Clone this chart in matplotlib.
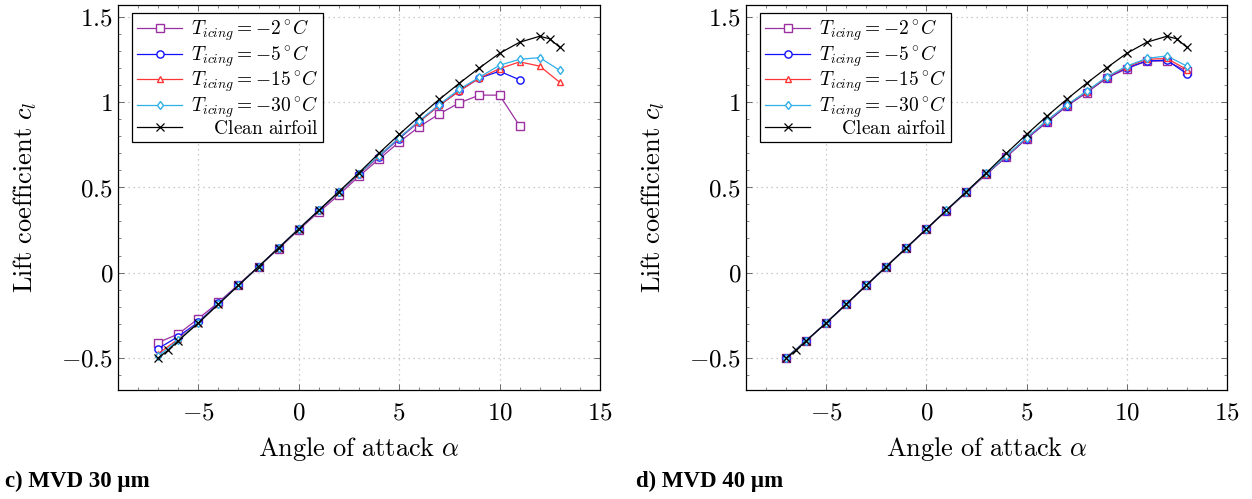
import numpy as np
import matplotlib
matplotlib.use("Agg")
import matplotlib.pyplot as plt
from matplotlib.ticker import MultipleLocator, FuncFormatter

plt.rcParams['mathtext.fontset'] = 'cm'
plt.rcParams['font.family'] = 'DejaVu Serif'

# ---------------- data ----------------
aoa = list(range(-7, 14))
aoa_clean = [-7, -6.5, -6, -5, -4, -3, -2, -1, 0, 1, 2, 3, 4, 5, 6, 7, 8, 9, 10, 11, 12, 12.5, 13]
cl_clean = [-0.50, -0.455, -0.40, -0.295, -0.185, -0.075, 0.035, 0.145, 0.255, 0.365, 0.475,
            0.585, 0.70, 0.81, 0.915, 1.015, 1.11, 1.20, 1.285, 1.35, 1.385, 1.37, 1.32]

# c) MVD 30 um
mvd30_m2 = [-0.41, -0.36, -0.27, -0.175, -0.07, 0.035, 0.14, 0.25, 0.355, 0.455, 0.565,
            0.665, 0.765, 0.855, 0.93, 0.995, 1.04, 1.04, 0.86]
mvd30_m5 = [-0.445, -0.375, -0.29, -0.18, -0.075, 0.035, 0.145, 0.255, 0.365, 0.47, 0.578,
            0.68, 0.785, 0.885, 0.98, 1.065, 1.14, 1.18, 1.13]
mvd30_m15 = [-0.475, -0.39, -0.295, -0.185, -0.075, 0.035, 0.145, 0.255, 0.365, 0.47, 0.578,
             0.682, 0.79, 0.885, 0.98, 1.065, 1.14, 1.195, 1.235, 1.21, 1.115]
mvd30_m30 = [-0.49, -0.395, -0.295, -0.185, -0.075, 0.035, 0.145, 0.255, 0.365, 0.472, 0.58,
             0.685, 0.79, 0.89, 0.985, 1.075, 1.145, 1.215, 1.25, 1.26, 1.185]

# d) MVD 40 um
mvd40_m2 = [-0.50, -0.40, -0.295, -0.185, -0.075, 0.035, 0.145, 0.255, 0.363, 0.472, 0.578,
            0.68, 0.785, 0.88, 0.975, 1.055, 1.14, 1.195, 1.24, 1.24, 1.18]
mvd40_m5 = [-0.50, -0.40, -0.295, -0.185, -0.075, 0.035, 0.145, 0.255, 0.363, 0.472, 0.578,
            0.68, 0.785, 0.882, 0.977, 1.058, 1.142, 1.20, 1.24, 1.245, 1.165]
mvd40_m15 = [-0.50, -0.40, -0.295, -0.185, -0.075, 0.035, 0.145, 0.255, 0.364, 0.473, 0.58,
             0.682, 0.788, 0.886, 0.98, 1.06, 1.145, 1.205, 1.25, 1.255, 1.19]
mvd40_m30 = [-0.50, -0.40, -0.295, -0.185, -0.075, 0.035, 0.145, 0.255, 0.365, 0.474, 0.582,
             0.685, 0.791, 0.89, 0.982, 1.063, 1.148, 1.21, 1.255, 1.27, 1.21]

labels = [r'$T_{icing} = -2\,^{\circ}C$', r'$T_{icing} = -5\,^{\circ}C$',
          r'$T_{icing} = -15\,^{\circ}C$', r'$T_{icing} = -30\,^{\circ}C$']
clean_label = r'$\quad\ \mathrm{Clean\ airfoil}$'
colors = ['#9b30a0', '#1010ff', '#ff3535', '#30b0e8']
markers = ['s', 'o', '^', 'd']
msizes = [5.2, 5.2, 4.2, 4.5]

panels = [
    ([mvd30_m2, mvd30_m5, mvd30_m15, mvd30_m30], r'c) MVD 30 µm'),
    ([mvd40_m2, mvd40_m5, mvd40_m15, mvd40_m30], r'd) MVD 40 µm'),
]

fig = plt.figure(figsize=(12.52, 4.99), dpi=100)
axes_pos = [[0.0942, 0.2184, 0.385, 0.7715], [0.5958, 0.2184, 0.3842, 0.7715]]
caption_x = [0.004, 0.508]

fmt = FuncFormatter(lambda v, p: r'$%s$' % ('%g' % round(v, 2)))

for (series, caption), pos, cx in zip(panels, axes_pos, caption_x):
    ax = fig.add_axes(pos)
    for cl, lab, c, m, ms in zip(series, labels, colors, markers, msizes):
        ax.plot(aoa[:len(cl)], cl, color=c, marker=m, ms=ms, mfc='white', mec=c,
                mew=1.0, lw=0.9, label=lab)
    ax.plot(aoa_clean, cl_clean, color='black', marker='x', ms=5.2, mew=0.9, lw=0.9,
            label=clean_label)

    ax.set_xlim(-9, 15)
    ax.set_ylim(-0.688, 1.568)
    ax.xaxis.set_major_locator(MultipleLocator(5))
    ax.xaxis.set_minor_locator(MultipleLocator(1))
    ax.yaxis.set_major_locator(MultipleLocator(0.5))
    ax.yaxis.set_minor_locator(MultipleLocator(0.1))
    ax.xaxis.set_major_formatter(fmt)
    ax.yaxis.set_major_formatter(fmt)
    ax.tick_params(which='both', direction='in', top=True, right=True, labelsize=18,
                   color='#555555')
    ax.tick_params(which='major', length=4, width=0.6)
    ax.tick_params(which='minor', length=2, width=0.5)
    ax.tick_params(axis='x', pad=8)
    ax.grid(True, which='major', ls=(0, (1, 3)), color='#bbbbbb', lw=0.9)
    for s in ax.spines.values():
        s.set_linewidth(0.9)

    ax.set_xlabel(r'$\mathrm{Angle\ of\ attack}\ \alpha$', fontsize=19, labelpad=8)
    ax.set_ylabel(r'$\mathrm{Lift\ coefficient}\ c_l$', fontsize=19, labelpad=16)

    leg = ax.legend(loc='upper left', bbox_to_anchor=(0.03, 0.98), borderaxespad=0,
                    fontsize=14, fancybox=False, framealpha=1, edgecolor='black',
                    handlelength=2.3, labelspacing=0.0, borderpad=0.25, handletextpad=0.45)
    leg.get_frame().set_linewidth(0.9)

    fig.text(cx, 0.015, caption, fontsize=16.5, fontweight='bold',
             family='Liberation Serif', ha='left', va='bottom')

fig.savefig('out.png', dpi=100)
